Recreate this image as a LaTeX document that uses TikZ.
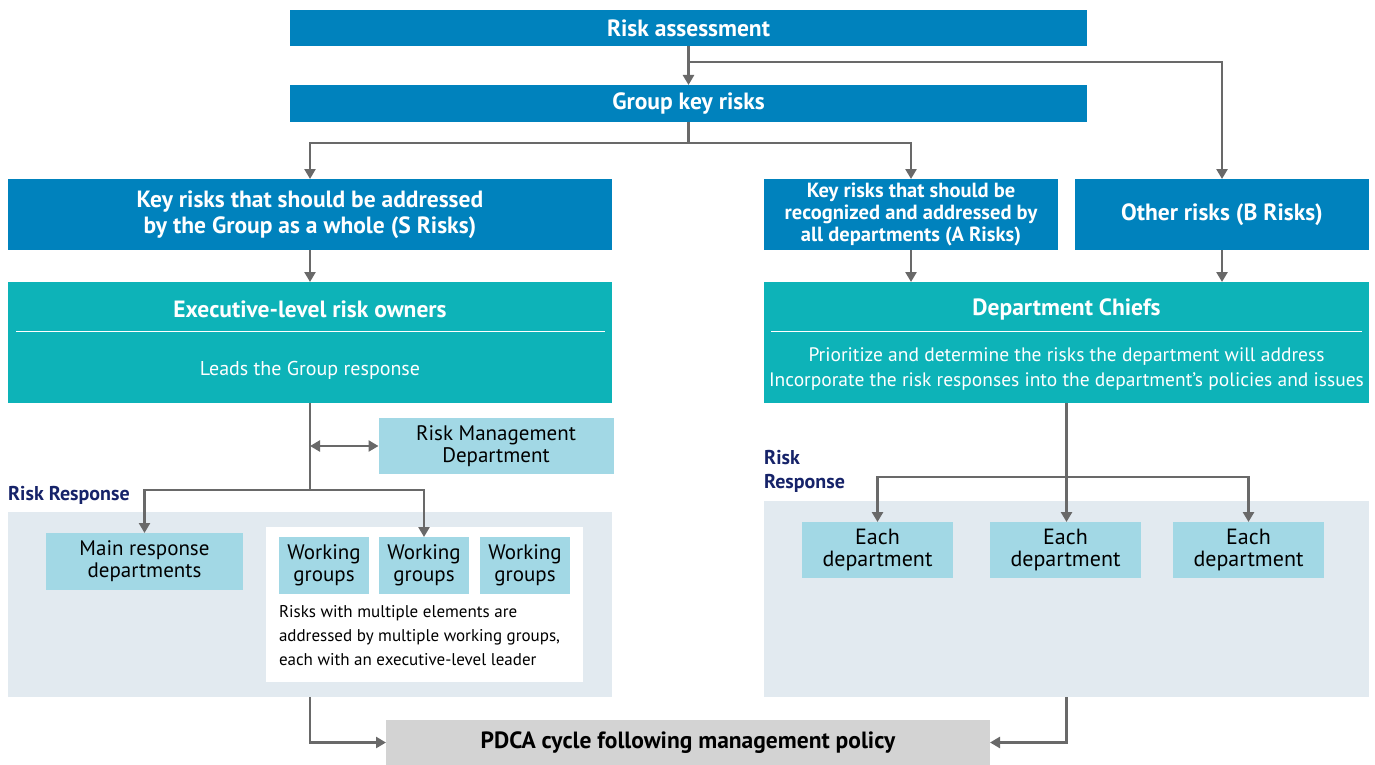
\documentclass[tikz,border=0pt]{standalone}
\usepackage{fontspec}
\setmainfont{PT Sans}
\usetikzlibrary{arrows.meta}
\definecolor{riskblue}{RGB}{0,130,189}
\definecolor{riskteal}{RGB}{13,179,184}
\definecolor{palecyan}{RGB}{162,216,229}
\definecolor{zonegray}{RGB}{226,234,240}
\definecolor{linegray}{RGB}{105,105,105}
\definecolor{navy}{RGB}{22,35,105}
\definecolor{pdcagray}{RGB}{211,211,211}
\tikzset{
  box/.style={inner sep=0pt, outer sep=0pt, align=center},
  bluebox/.style={box, fill=riskblue, text=white, font=\bfseries\fontsize{23.5}{26}\selectfont},
  tealbox/.style={box, fill=riskteal},
  cyanbox/.style={box, fill=palecyan, text=black, font=\fontsize{21}{22}\selectfont},
  zone/.style={box, fill=zonegray},
  conn/.style={draw=linegray, line width=2.6pt},
  arr/.style={conn, -{Triangle[width=11pt,length=10pt]}},
  dblarr/.style={conn, {Triangle[width=11pt,length=10pt]}-{Triangle[width=11pt,length=10pt]}},
  tag/.style={inner sep=0pt, text=navy, font=\bfseries\fontsize{20}{24}\selectfont, align=left},
}
\begin{document}
\begin{tikzpicture}[x=1pt,y=-1pt]
\useasboundingbox (0,0) rectangle (1375,765);

% top chain
\node[bluebox, minimum width=797, minimum height=36] (ra) at (688.5,28) {Risk assessment};
\node[bluebox, minimum width=797, minimum height=37] (gkr) at (688.5,103.5) {Group key risks};

% risk categories
\node[bluebox, minimum width=604, minimum height=71] (srisk) at (310,214.5)
  {Key risks that should be addressed\\by the Group as a whole (S Risks)};
\node[bluebox, minimum width=294, minimum height=71, font=\bfseries\fontsize{20.5}{22}\selectfont] (arisk) at (911,214.5)
  {Key risks that should be\\recognized and addressed by\\all departments (A Risks)};
\node[bluebox, minimum width=294, minimum height=71] (brisk) at (1222,214.5) {Other risks (B Risks)};

% owners
\node[tealbox, minimum width=604, minimum height=121] (exec) at (310,342.5) {};
\node[box, text=white, font=\bfseries\fontsize{23.5}{26}\selectfont] (exect) at (310,309) {Executive-level risk owners};
\node[box, text=white, font=\fontsize{20}{24}\selectfont] (execs) at (310,370) {Leads the Group response};
\draw[white, line width=0.8pt] (16,331) -- (605,331);

\node[tealbox, minimum width=605, minimum height=121] (chiefs) at (1066.5,342.5) {};
\node[box, text=white, font=\bfseries\fontsize{23.5}{26}\selectfont] (chieft) at (1066.5,309) {Department Chiefs};
\node[box, text=white, font=\fontsize{19.5}{25}\selectfont] (chiefs2) at (1066.5,369.5)
  {Prioritize and determine the risks the department will address\\Incorporate the risk responses into the department’s policies and issues};
\draw[white, line width=0.8pt] (771,331) -- (1362,331);

% risk management department
\node[cyanbox, minimum width=235, minimum height=56] (rmd) at (496,446) {Risk Management\\Department};

% response zones
\node[zone, minimum width=604, minimum height=185] (lzone) at (310,604.5) {};
\node[zone, minimum width=605, minimum height=196] (rzone) at (1066.5,599) {};
\node[tag, anchor=west] (ltag) at (8,495.5) {Risk Response};
\node[tag, anchor=north west] (rtag) at (764,450) {Risk\\Response};

% left zone content
\node[cyanbox, minimum width=197, minimum height=57] (mainrd) at (144.5,561.5) {Main response\\departments};
\node[box, fill=white, minimum width=317, minimum height=155] (wgzone) at (424.5,604.5) {};
\node[cyanbox, minimum width=90, minimum height=57] (wg1) at (324,565.5) {Working\\groups};
\node[cyanbox, minimum width=90, minimum height=57] (wg2) at (424,565.5) {Working\\groups};
\node[cyanbox, minimum width=90, minimum height=57] (wg3) at (525,565.5) {Working\\groups};
\node[box, anchor=north west, align=left, font=\fontsize{17}{24}\selectfont] (wgnote) at (279,605)
  {Risks with multiple elements are\\addressed by multiple working groups,\\each with an executive-level leader};

% right zone content
\node[cyanbox, minimum width=151, minimum height=56, font=\fontsize{22}{22}\selectfont] (ed1) at (877.5,550) {Each\\department};
\node[cyanbox, minimum width=151, minimum height=56, font=\fontsize{22}{22}\selectfont] (ed2) at (1065.5,550) {Each\\department};
\node[cyanbox, minimum width=151, minimum height=56, font=\fontsize{22}{22}\selectfont] (ed3) at (1248.5,550) {Each\\department};

% outcome
\node[box, fill=pdcagray, minimum width=604, minimum height=45, font=\bfseries\fontsize{23.5}{24}\selectfont] (pdca) at (688,742.5)
  {PDCA cycle following management policy};

% connectors
\coordinate (j1) at (688.5,62);
\coordinate (j2) at (688.5,143);
\coordinate (j3) at (310,490);
\coordinate (j4) at (1066.5,477);
\draw[arr] (ra.south) -- (gkr.north);
\draw[arr] (j1) -| (brisk.north);
\draw[conn] (gkr.south) -- (j2);
\draw[arr] (j2) -| (srisk.north);
\draw[arr] (j2) -| (arisk.north);
\draw[arr] (srisk.south) -- (exec.north);
\draw[arr] (arisk.south) -- (arisk.south |- chiefs.north);
\draw[arr] (brisk.south) -- (brisk.south |- chiefs.north);
\draw[conn] (exec.south) -- (j3);
\draw[dblarr] (exec.south |- rmd.west) -- (rmd.west);
\draw[arr] (j3) -| (mainrd.north);
\draw[arr] (j3) -| (wg2.north);
\draw[conn] (chiefs.south) -- (j4);
\draw[arr] (j4) -| (ed1.north);
\draw[arr] (j4) -- (ed2.north -| j4);
\draw[arr] (j4) -| (ed3.north);
\draw[arr] (lzone.south) |- (pdca.west);
\draw[arr] (rzone.south) |- (pdca.east);
\end{tikzpicture}
\end{document}
